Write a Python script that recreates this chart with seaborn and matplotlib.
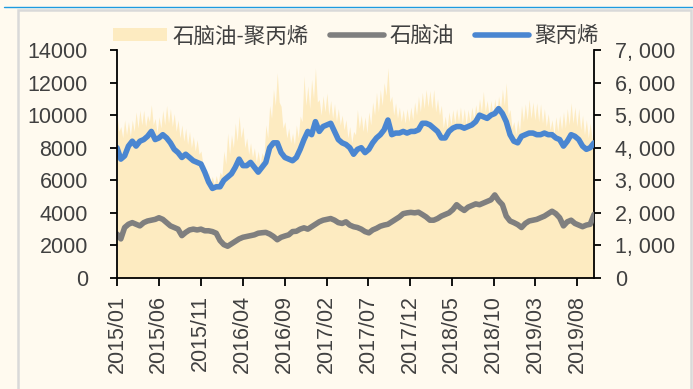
import pandas as pd
import matplotlib
matplotlib.use("Agg")
import matplotlib.pyplot as plt
from matplotlib.lines import Line2D
from matplotlib.patches import Patch, Rectangle
from matplotlib.ticker import FuncFormatter
import seaborn as sns

# ---- data -------------------------------------------------------------
series_start, series_end = "2015-01-01", "2019-09-30"
n_points = 251
tick_months = pd.date_range("2015-01-01", "2019-08-01", freq="5MS")

spread = [
    5000, 4500, 4650, 4300, 4850, 4400, 4800, 4350, 4850, 4500,
    5100, 4600, 5150, 4700, 5150, 4650, 5000, 4800, 5320, 4700,
    4900, 4450, 4950, 4600, 5150, 4700, 5300, 4750, 5200, 4650,
    5050, 4500, 4850, 4300, 4700, 4200, 4600, 4100, 4500, 4000,
    4350, 3900, 4250, 3800, 3900, 3500, 3450, 3100, 3250, 2950,
    3120, 2850, 3150, 2900, 3250, 3150, 3900, 3500, 4450, 3800,
    4400, 4000, 4760, 4200, 4970, 4300, 4650, 4000, 4300, 3800,
    4150, 3700, 4000, 3550, 3900, 3500, 3850, 3700, 4700, 4300,
    5300, 4900, 5800, 5300, 6300, 5400, 5270, 4600, 4800, 4300,
    4600, 4150, 4450, 4100, 4700, 4300, 4970, 4800, 6200, 5300,
    5900, 5200, 6100, 5500, 6450, 5400, 5480, 5000, 5600, 5100,
    5680, 5000, 5450, 4900, 5350, 4800, 5200, 4700, 5000, 4550,
    4860, 4300, 4650, 4150, 4500, 4400, 5170, 4600, 5000, 4500,
    4950, 4450, 5100, 4700, 5400, 5000, 5700, 5100, 5790, 5300,
    6000, 5600, 6450, 5400, 5580, 5000, 5380, 4900, 5250, 4800,
    5170, 4750, 5200, 4800, 5250, 4850, 5400, 5000, 5580, 5100,
    5700, 5200, 5790, 5250, 5750, 5200, 5790, 5100, 5500, 5000,
    5300, 4600, 4970, 4600, 5100, 4700, 5170, 4750, 5200, 4800,
    5250, 4750, 5200, 4700, 5170, 4800, 5250, 4850, 5320, 5000,
    5500, 5100, 5730, 5100, 5450, 5000, 5450, 5000, 5500, 5050,
    5580, 5200, 5800, 5300, 5990, 5000, 5170, 4600, 4800, 4400,
    4860, 4500, 5300, 4800, 5350, 4850, 5480, 4900, 5400, 4850,
    5380, 4800, 5350, 4750, 5200, 4650, 5050, 4550, 4860, 4400,
    4950, 4500, 5000, 4550, 5100, 4600, 5200, 4700, 5380, 4750,
    5250, 4650, 5200, 4550, 5000, 4400, 4860, 4300, 4760, 4250,
    4650,
]

polypropylene = [
    8000, 7300, 7500, 8100, 8400, 8100, 8400, 8500, 8700, 9000,
    8500, 8600, 8800, 8600, 8300, 7900, 7700, 7400, 7600, 7400,
    7200, 7100, 7000, 6500, 5900, 5500, 5600, 5600, 6000, 6200,
    6400, 6800, 7300, 6900, 6900, 7100, 6800, 6500, 6800, 7100,
    8000, 8300, 8300, 7700, 7400, 7300, 7200, 7400, 7900, 8500,
    9000, 8800, 9600, 9000, 9300, 9400, 9500, 9000, 8500, 8300,
    8200, 8000, 7600, 7900, 8000, 7700, 7900, 8300, 8600, 8800,
    9100, 9700, 8800, 8900, 8900, 9000, 8900, 9000, 9000, 9100,
    9500, 9500, 9400, 9200, 9000, 8600, 8600, 9000, 9200, 9300,
    9300, 9200, 9300, 9400, 9600, 10000, 9900, 9800, 10000, 10100,
    10400, 10100, 9600, 8800, 8400, 8300, 8700, 8800, 8900, 8900,
    8800, 8800, 8900, 8800, 8800, 8600, 8500, 8100, 8400, 8800,
    8700, 8500, 8100, 7900, 8000, 8300,
]

naphtha = [
    2700, 2400, 3100, 3300, 3400, 3300, 3200, 3400, 3500, 3550,
    3600, 3700, 3600, 3400, 3200, 3100, 3000, 2600, 2800, 2950,
    3000, 2950, 3000, 2900, 2900, 2850, 2750, 2300, 2050, 1950,
    2100, 2250, 2400, 2500, 2550, 2600, 2650, 2750, 2780, 2800,
    2700, 2550, 2350, 2500, 2580, 2650, 2850, 2870, 3000, 3080,
    3000, 3150, 3300, 3450, 3550, 3600, 3650, 3550, 3400, 3350,
    3450, 3250, 3150, 3100, 3000, 2850, 2770, 2950, 3050, 3180,
    3250, 3300, 3450, 3600, 3750, 3950, 4000, 4030, 4000, 4040,
    3900, 3750, 3550, 3550, 3650, 3800, 3900, 4000, 4200, 4500,
    4300, 4150, 4350, 4450, 4550, 4500, 4600, 4700, 4800, 5100,
    4750, 4500, 3800, 3500, 3400, 3280, 3100, 3350, 3500, 3550,
    3600, 3700, 3800, 3950, 4100, 3950, 3700, 3200, 3450, 3550,
    3350, 3250, 3150, 3250, 3300, 3900,
]

labels = ["石脑油-聚丙烯", "石脑油", "聚丙烯"]

dates = pd.date_range(series_start, series_end, periods=n_points)
line_dates = dates[::2]

# ---- style ------------------------------------------------------------
sns.set_style("ticks")
plt.rcParams["font.family"] = ["Liberation Sans", "Noto Sans CJK SC"]

bg = "#FFFAEF"
area_color = "#FDEBC1"
gray = "#7F7F7F"
blue = "#4A86D1"
text_color = "#404040"
fs = 15.5
lw = 4.0

W, H = 693, 389
fig = plt.figure(figsize=(W / 100, H / 100), dpi=100, facecolor=bg)
ax = fig.add_axes([117 / W, 1 - 278 / H, 477 / W, 228 / H])
ax2 = ax.twinx()

# spread area on the secondary axis, kept behind the price lines
ax2.fill_between(dates, 0, spread, color=area_color, lw=0)
ax2.set_facecolor(bg)
ax.set_zorder(ax2.get_zorder() + 1)
ax.patch.set_visible(False)

sns.lineplot(x=line_dates, y=naphtha, ax=ax, color=gray, lw=lw,
             solid_capstyle="round", solid_joinstyle="round")
sns.lineplot(x=line_dates, y=polypropylene, ax=ax, color=blue, lw=lw,
             solid_capstyle="round", solid_joinstyle="round")

ax.set_xlim(dates[0], dates[-1])
ax.set_ylim(0, 14000)
ax.set_yticks(range(0, 14001, 2000))
ax2.set_ylim(0, 7000)
ax2.set_yticks(range(0, 7001, 1000))
ax2.yaxis.set_major_formatter(
    FuncFormatter(lambda v, _: f"{int(v):,}".replace(",", ", ")))

ax.set_xticks(tick_months)
ax.set_xticklabels([d.strftime("%Y/%m") for d in tick_months], rotation=90)
ax.set_xlabel("")
ax.set_ylabel("")

for a in (ax, ax2):
    for s in a.spines.values():
        s.set_visible(False)
ax.spines["left"].set_visible(True)
ax.spines["bottom"].set_visible(True)
ax2.spines["right"].set_visible(True)
for s in (ax.spines["left"], ax.spines["bottom"], ax2.spines["right"]):
    s.set_color("black")
    s.set_linewidth(1.3)

ax.tick_params(axis="y", direction="out", length=5, width=1.3, color="black",
               labelcolor=text_color, labelsize=fs, pad=16)
ax.tick_params(axis="x", direction="out", length=6, width=1.3, color="black",
               labelcolor=text_color, labelsize=fs, pad=6)
ax2.tick_params(axis="y", direction="out", length=5, width=1.3, color="black",
                labelcolor=text_color, labelsize=fs, pad=10)

handles = [
    Patch(facecolor=area_color, edgecolor="none"),
    Line2D([0], [0], color=gray, lw=lw, solid_capstyle="round"),
    Line2D([0], [0], color=blue, lw=lw, solid_capstyle="round"),
]
fig.legend(handles, labels, ncol=3, loc="center",
           bbox_to_anchor=(356 / W, 1 - 37 / H), frameon=False,
           fontsize=fs, labelcolor=text_color, handlelength=2.5,
           handleheight=0.55, handletextpad=0.25, columnspacing=1.0,
           borderpad=0)

# outer frame of the chart panel
fig.add_artist(Line2D([4 / W, 1], [1 - 7 / H] * 2, color="#1E9BE0", lw=1.0,
                      transform=fig.transFigure))
fig.add_artist(Rectangle((18 / W, -0.05), (691 - 18) / W, (H - 9.5) / H + 0.05,
                         fill=False, ec="#D9D9D9", lw=1.8,
                         transform=fig.transFigure))

fig.savefig("out.png", dpi=100, facecolor=bg)
